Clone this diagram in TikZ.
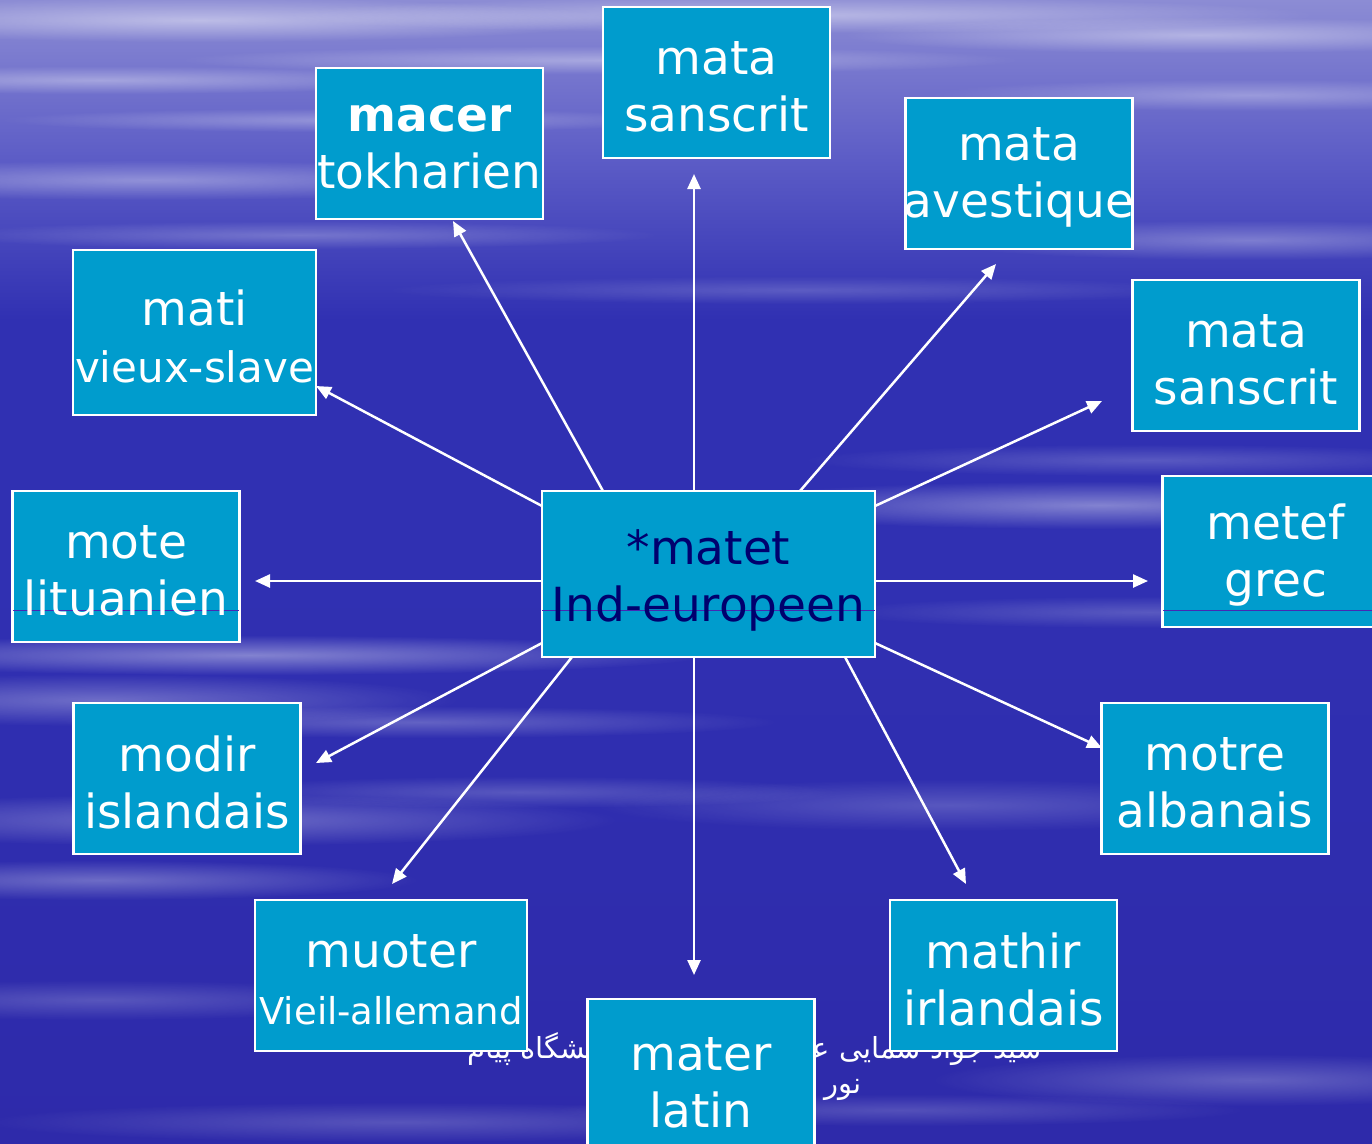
\documentclass[tikz,border=0pt]{standalone}
\usepackage{fontspec}
\setmainfont{DejaVu Sans}
\newfontfamily\persianfont[Script=Arabic]{DejaVu Sans}
\TeXXeTstate=1
\usetikzlibrary{arrows.meta,fadings}
\definecolor{boxc}{RGB}{0,156,205}
\definecolor{centertext}{RGB}{0,0,110}
\definecolor{thinl}{RGB}{70,40,180}
\definecolor{bgtop}{RGB}{140,140,212}
\definecolor{bgup}{RGB}{92,92,198}
\definecolor{bgmid}{RGB}{48,48,178}
\definecolor{bgbot}{RGB}{46,42,170}
\pgfdeclareverticalshading{bgshade}{100bp}{color(0bp)=(bgbot); color(25bp)=(bgbot); color(50bp)=(bgmid); color(61bp)=(bgmid); color(68bp)=(bgup); color(75bp)=(bgtop); color(100bp)=(bgtop)}
\tikzfading[name=softfade, inner color=transparent!0, outer color=transparent!100]
\begin{document}
\begin{tikzpicture}[x=1pt,y=-1pt,
  box/.style={draw=white,line width=2.5pt,fill=boxc,inner sep=0pt,minimum width=227pt,minimum height=151pt},
  txt/.style={text=white,align=center,inner sep=0pt,font=\fontsize{47}{57}\selectfont},
  arr/.style={white,line width=2.5pt,-{Triangle[length=15pt,width=13pt]}},
  streak/.style={white,path fading=softfade}]
\useasboundingbox (0,0) rectangle (1372,1143);
\clip (0,0) rectangle (1372,1143);
% background
\shade[shading=bgshade] (0,0) rectangle (1372,1143);
\foreach \x/\y/\a/\b/\o in {200/20/420/22/.45, 800/15/520/18/.4, 1200/35/360/18/.4,
  100/80/360/14/.35, 600/60/420/14/.35, 1250/95/320/16/.3, 350/120/350/12/.3,
  150/180/400/20/.35, 300/235/360/14/.25, 1250/240/320/20/.3, 800/290/420/14/.18,
  1150/460/350/16/.2, 1100/505/400/24/.4, 1150/612/320/16/.2,
  250/655/460/20/.4, 100/700/360/26/.3, 420/722/360/16/.25,
  200/820/420/26/.3, 520/792/320/16/.2, 950/805/360/26/.2,
  100/880/320/20/.3, 100/1000/320/20/.2, 1250/1080/320/26/.25, 400/1122/420/20/.2, 900/1110/350/16/.18}
  \fill[streak,opacity=\o] (\x,\y) ellipse ({\a} and {\b});
% footer text (partly hidden by boxes)
\node[anchor=east,inner sep=0pt,text=white,font=\persianfont\fontsize{29}{36}\selectfont] (foot1) at (1042,1049) {\beginR سید جواد سمایی عضو هیئت علمی دانشگاه پیام\endR};
\node[anchor=east,inner sep=0pt,text=white,font=\persianfont\fontsize{29}{36}\selectfont] (foot2) at (862,1090) {\beginR نور\endR};
% boxes
\node[box] (tok) at (429.5,143.5) {};
\node[box] (san1) at (716.5,82.5) {};
\node[box] (ave) at (1019,173.5) {};
\node[box,minimum width=243pt,minimum height=165pt] (sla) at (194.5,332.5) {};
\node[box] (san2) at (1246,355.5) {};
\node[box] (lit) at (126,566.5) {};
\node[box,minimum width=333pt,minimum height=166pt] (ie) at (708.5,574) {};
\node[box] (gre) at (1276,551.5) {};
\node[box] (isl) at (187,778.5) {};
\node[box] (alb) at (1215,778.5) {};
\node[box,minimum width=272pt] (all) at (391,975.5) {};
\node[box] (irl) at (1003.5,975.5) {};
\node[box] (lat) at (701,1074.5) {};
% thin line across the middle
\draw[thinl,line width=1pt] ([xshift=1.5pt]lit.west |- 0,610) -- ([xshift=-1.5pt]lit.east |- 0,610);
\draw[thinl,line width=1pt] ([xshift=1.5pt]ie.west |- 0,610) -- ([xshift=-1.5pt]ie.east |- 0,610);
\draw[thinl,line width=1pt] ([xshift=1.5pt]gre.west |- 0,610) -- (1372,610);
% texts
\tikzset{tshift/.style={yshift=-4pt}}
\node[txt,tshift] at (tok) {\textbf{macer}\\tokharien};
\node[txt,tshift] at (san1) {mata\\sanscrit};
\node[txt,tshift] at (ave) {mata\\avestique};
\node[txt,tshift] at (sla) {mati\\{\fontsize{42}{54}\selectfont vieux-slave}};
\node[txt,tshift] at (san2) {mata\\sanscrit};
\node[txt,tshift] at (lit) {mote\\lituanien};
\node[txt,text=centertext,yshift=-6pt] at (ie.center) {*matet\\Ind-europeen};
\node[txt,tshift] at (gre) {metef\\grec};
\node[txt,tshift] at (isl) {modir\\islandais};
\node[txt,tshift] at (alb) {motre\\albanais};
\node[txt,tshift] at (all) {muoter\\{\fontsize{37}{50}\selectfont Vieil-allemand}};
\node[txt,tshift] at (irl) {mathir\\irlandais};
\node[txt,yshift=-8pt] at (lat.center) {mater\\latin};
% arrows
\coordinate (s1) at (603,491); \coordinate (t1) at (453,221);
\coordinate (s2) at (694,491); \coordinate (t2) at (694,174);
\coordinate (s3) at (800,491); \coordinate (t3) at (996,264);
\coordinate (s4) at (542,506); \coordinate (t4) at (316,386);
\coordinate (s5) at (875,506); \coordinate (t5) at (1102,401);
\coordinate (s6) at (542,581); \coordinate (t6) at (255,581);
\coordinate (s7) at (875,581); \coordinate (t7) at (1148,581);
\coordinate (s8) at (542,643); \coordinate (t8) at (316,763);
\coordinate (s9) at (875,643); \coordinate (t9) at (1102,748);
\coordinate (s10) at (572,657); \coordinate (t10) at (392,884);
\coordinate (s11) at (845,657); \coordinate (t11) at (966,884);
\coordinate (s12) at (694,657); \coordinate (t12) at (694,975);
\foreach \i in {1,...,12} \draw[arr] (s\i) -- (t\i);
\end{tikzpicture}
\end{document}
